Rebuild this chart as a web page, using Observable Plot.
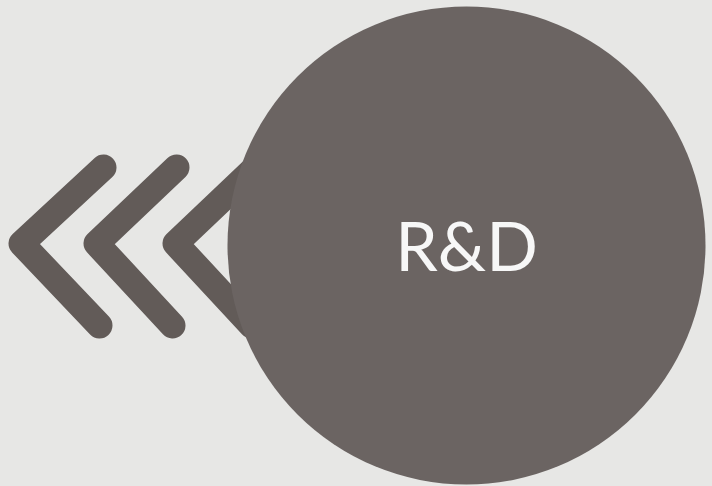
<!DOCTYPE html>
<html>
<head>
<meta charset="utf-8">
<script src="https://cdn.jsdelivr.net/npm/d3@7"></script>
<script src="https://cdn.jsdelivr.net/npm/@observablehq/plot@0.6"></script>
<style>
  html, body { margin: 0; padding: 0; background: #e7e7e5; }
  #chart { width: 712px; height: 486px; overflow: hidden; }
</style>
</head>
<body>
<div id="chart"></div>
<script>
// Chevrons: vertex x, arm end x, shared y values
const chevronIds = ["c1", "c2", "c3"];
const chevronTipX = [21, 96, 175];
const chevronEndX = [103, 176, 255];
const chevronTopY = 167;
const chevronMidY = 243;
const chevronBotY = 325;

// Circle
const circleLabel = ["R&D"];
const circleX = [466];
const circleY = [245];

const chevronPoints = chevronIds.flatMap((id, i) => [
  {id, x: chevronEndX[i], y: chevronTopY},
  {id, x: chevronTipX[i], y: chevronMidY},
  {id, x: chevronEndX[i] - 4, y: chevronBotY}
]);
const circles = circleLabel.map((label, i) => ({label, x: circleX[i], y: circleY[i]}));

const chart = Plot.plot({
  width: 712,
  height: 486,
  margin: 0,
  style: {background: "#e7e7e5"},
  x: {domain: [0, 712], axis: null},
  y: {domain: [486, 0], axis: null},
  marks: [
    Plot.line(chevronPoints, {
      x: "x", y: "y", z: "id",
      stroke: "#625b58", strokeWidth: 26,
      strokeLinecap: "round", strokeLinejoin: "round"
    }),
    Plot.dot(circles, {x: "x", y: "y", r: 239, fill: "#6b6462", stroke: "none"}),
    Plot.text(circles, {
      x: "x", y: (d) => d.y + 4, text: "label",
      fill: "#f7f7f7", fontSize: 68,
      fontFamily: "Lato, 'Open Sans', sans-serif"
    })
  ]
});
document.getElementById("chart").appendChild(chart);
</script>
</body>
</html>
